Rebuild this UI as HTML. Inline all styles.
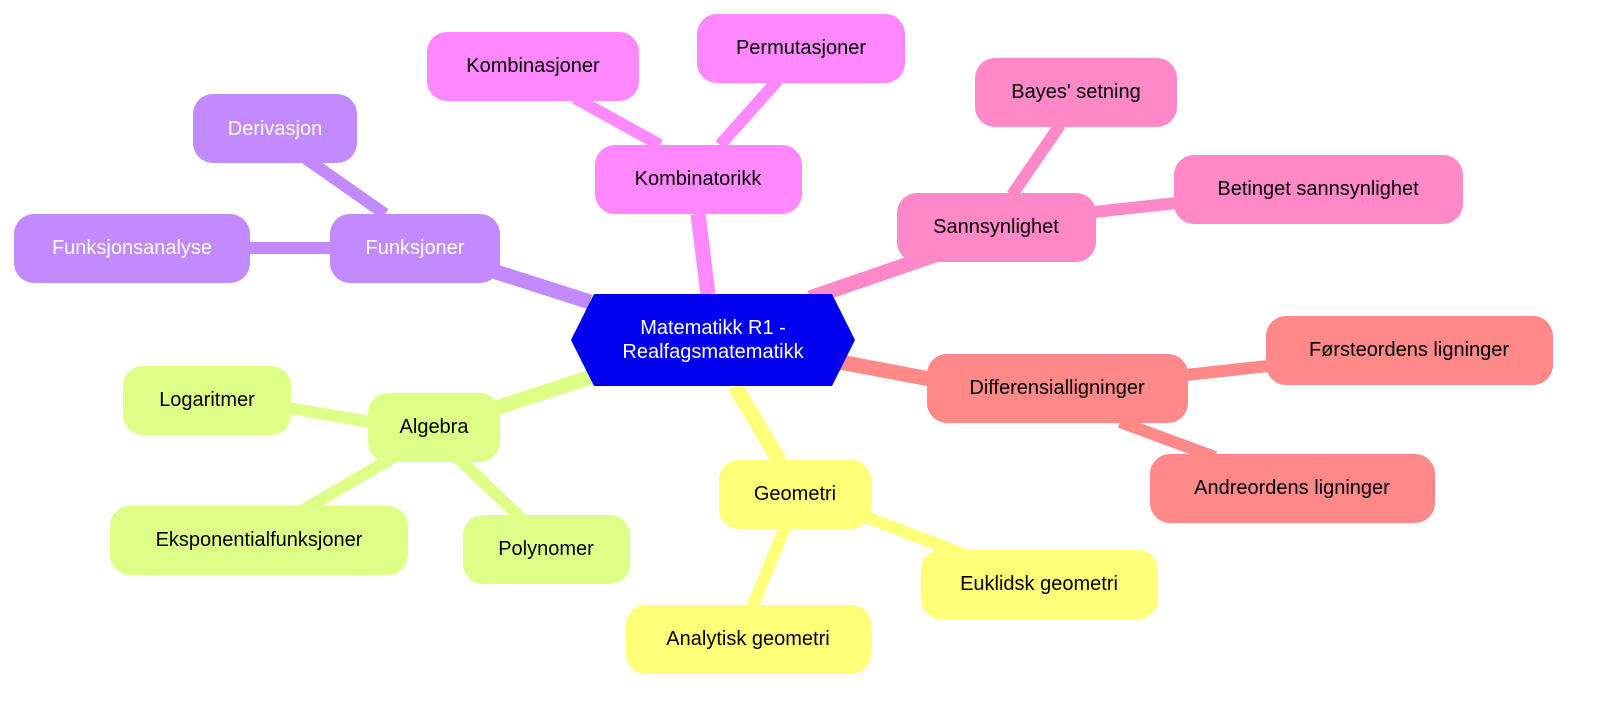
<!DOCTYPE html>
<html><head><meta charset="utf-8"><style>
html,body{margin:0;padding:0;background:#fff;}
svg{display:block;}
text{font-family:"Liberation Sans","DejaVu Sans",sans-serif;font-size:20px;text-anchor:middle;dominant-baseline:central;}
</style></head><body>
<svg width="1600" height="704" viewBox="0 0 1600 704">
<g stroke-linecap="butt" fill="none">
<line x1="590" y1="302" x2="490" y2="270" stroke="#C38AFF" stroke-width="15"/>
<line x1="708" y1="294" x2="698" y2="214" stroke="#FF88FF" stroke-width="15"/>
<line x1="810" y1="298" x2="935" y2="255" stroke="#FF88C8" stroke-width="15"/>
<line x1="840" y1="362" x2="935" y2="380" stroke="#FF8888" stroke-width="15"/>
<line x1="735" y1="386" x2="780" y2="462" stroke="#FFFF78" stroke-width="15"/>
<line x1="594" y1="376" x2="490" y2="410" stroke="#DDFF88" stroke-width="15"/>
<line x1="385" y1="214" x2="305" y2="158" stroke="#C38AFF" stroke-width="12"/>
<line x1="332" y1="248" x2="248" y2="248" stroke="#C38AFF" stroke-width="12"/>
<line x1="660" y1="145" x2="575" y2="98" stroke="#FF88FF" stroke-width="12"/>
<line x1="720" y1="145" x2="778" y2="80" stroke="#FF88FF" stroke-width="12"/>
<line x1="1012" y1="195" x2="1060" y2="125" stroke="#FF88C8" stroke-width="12"/>
<line x1="1094" y1="212" x2="1177" y2="203" stroke="#FF88C8" stroke-width="12"/>
<line x1="1186" y1="375" x2="1268" y2="366" stroke="#FF8888" stroke-width="12"/>
<line x1="1120" y1="422" x2="1215" y2="457" stroke="#FF8888" stroke-width="12"/>
<line x1="866" y1="517" x2="965" y2="555" stroke="#FFFF78" stroke-width="12"/>
<line x1="785" y1="527" x2="752" y2="608" stroke="#FFFF78" stroke-width="12"/>
<line x1="370" y1="422" x2="289" y2="408" stroke="#DDFF88" stroke-width="12"/>
<line x1="392" y1="458" x2="300" y2="512" stroke="#DDFF88" stroke-width="12"/>
<line x1="458" y1="458" x2="522" y2="519" stroke="#DDFF88" stroke-width="12"/>
</g>
<g>
<rect x="330" y="214" width="170" height="69" rx="20" fill="#C38AFF"/><text x="415" y="248" fill="#fff">Funksjoner</text>
<rect x="193" y="94" width="164" height="69" rx="20" fill="#C38AFF"/><text x="275" y="129" fill="#fff">Derivasjon</text>
<rect x="14" y="214" width="236" height="69" rx="20" fill="#C38AFF"/><text x="132" y="248" fill="#fff">Funksjonsanalyse</text>
<rect x="595" y="145" width="207" height="69" rx="20" fill="#FF88FF"/><text x="698" y="179">Kombinatorikk</text>
<rect x="427" y="32" width="212" height="69" rx="20" fill="#FF88FF"/><text x="533" y="66">Kombinasjoner</text>
<rect x="697" y="14" width="208" height="69" rx="20" fill="#FF88FF"/><text x="801" y="48">Permutasjoner</text>
<rect x="897" y="193" width="199" height="69" rx="20" fill="#FF88C8"/><text x="996" y="227">Sannsynlighet</text>
<rect x="975" y="58" width="202" height="69" rx="20" fill="#FF88C8"/><text x="1076" y="92">Bayes' setning</text>
<rect x="1174" y="155" width="289" height="69" rx="20" fill="#FF88C8"/><text x="1318" y="189">Betinget sannsynlighet</text>
<rect x="927" y="354" width="261" height="69" rx="20" fill="#FF8888"/><text x="1057" y="388">Differensialligninger</text>
<rect x="1266" y="316" width="287" height="69" rx="20" fill="#FF8888"/><text x="1409" y="350">Førsteordens ligninger</text>
<rect x="1150" y="454" width="285" height="69" rx="20" fill="#FF8888"/><text x="1292" y="488">Andreordens ligninger</text>
<rect x="719" y="460" width="152" height="69" rx="20" fill="#FFFF78"/><text x="795" y="494">Geometri</text>
<rect x="921" y="550" width="237" height="69" rx="20" fill="#FFFF78"/><text x="1039" y="584">Euklidsk geometri</text>
<rect x="626" y="605" width="245" height="69" rx="20" fill="#FFFF78"/><text x="748" y="639">Analytisk geometri</text>
<rect x="368" y="393" width="132" height="69" rx="20" fill="#DDFF88"/><text x="434" y="427">Algebra</text>
<rect x="123" y="366" width="168" height="69" rx="20" fill="#DDFF88"/><text x="207" y="400">Logaritmer</text>
<rect x="110" y="506" width="298" height="69" rx="20" fill="#DDFF88"/><text x="259" y="540">Eksponentialfunksjoner</text>
<rect x="463" y="515" width="167" height="69" rx="20" fill="#DDFF88"/><text x="546" y="549">Polynomer</text>
<polygon points="571,340 594,294 832,294 855,340 832,386 594,386" fill="#0000EE"/>
<text x="713" y="328" fill="#fff">Matematikk R1 -</text>
<text x="713" y="352" fill="#fff">Realfagsmatematikk</text>
</g>
</svg>
</body></html>
